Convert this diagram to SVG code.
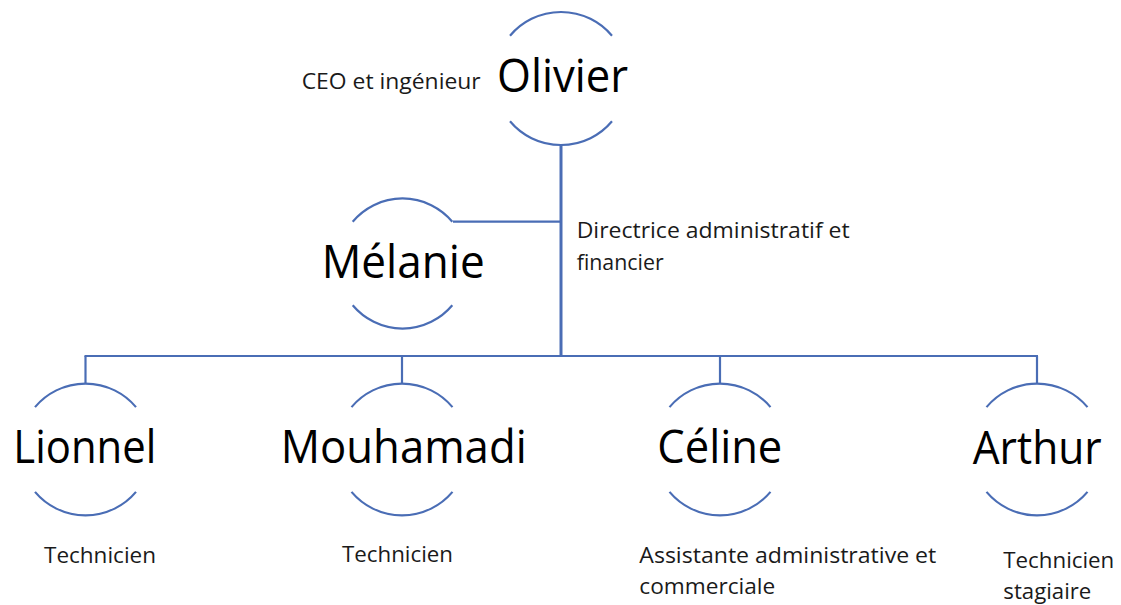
<svg xmlns="http://www.w3.org/2000/svg" width="1121" height="605" viewBox="0 0 1121 605">
  <style>
    .arc { fill: none; stroke: #4a6db5; stroke-width: 2.2; }
    .conn { fill: none; stroke: #4a6db5; stroke-width: 2.2; }
    .trunk { stroke-width: 3; }
    .name { font-family: "Open Sans", "Liberation Sans", sans-serif; font-size: 45px; fill: #000; }
    .role { font-family: "Open Sans", "Liberation Sans", sans-serif; font-size: 21.5px; fill: #1a1a1a; }
  </style>
  <rect width="1121" height="605" fill="#ffffff"/>

  <g id="connectors">
    <line class="conn trunk" x1="561" y1="145" x2="561" y2="357"/>
    <line class="conn" x1="453" y1="221.7" x2="561" y2="221.7"/>
    <line class="conn" x1="84.5" y1="356" x2="1038" y2="356"/>
    <line class="conn" x1="85.5" y1="356" x2="85.5" y2="383.5"/>
    <line class="conn" x1="402" y1="356" x2="402" y2="383.5"/>
    <line class="conn" x1="720" y1="356" x2="720" y2="383.5"/>
    <line class="conn" x1="1037" y1="356" x2="1037" y2="383.5"/>
  </g>

  <g id="olivier">
    <path class="arc" d="M 510 35.8 A 66.5 66.5 0 0 1 612 35.8"/>
    <path class="arc" d="M 510 121.2 A 66.5 66.5 0 0 0 612 121.2"/>
    <text class="name" x="497" y="91.7" textLength="131" lengthAdjust="spacingAndGlyphs">Olivier</text>
    <text class="role" x="301.7" y="89.3" textLength="179" lengthAdjust="spacingAndGlyphs">CEO et ingénieur</text>
  </g>

  <g id="melanie">
    <path class="arc" d="M 352.7 221.7 A 65 65 0 0 1 452.3 221.7"/>
    <path class="arc" d="M 352.7 305.3 A 65 65 0 0 0 452.3 305.3"/>
    <text class="name" x="321.7" y="278.3" textLength="163" lengthAdjust="spacingAndGlyphs">Mélanie</text>
    <text class="role" x="576.7" y="238.3" textLength="273" lengthAdjust="spacingAndGlyphs">Directrice administratif et</text>
    <text class="role" x="576.7" y="270" textLength="87" lengthAdjust="spacingAndGlyphs">financier</text>
  </g>

  <g id="lionnel">
    <path class="arc" d="M 35 407.1 A 66 66 0 0 1 136 407.1"/>
    <path class="arc" d="M 35 491.9 A 66 66 0 0 0 136 491.9"/>
    <text class="name" x="13.3" y="463" textLength="143" lengthAdjust="spacingAndGlyphs">Lionnel</text>
    <text class="role" x="44" y="563.3" textLength="112" lengthAdjust="spacingAndGlyphs">Technicien</text>
  </g>

  <g id="mouhamadi">
    <path class="arc" d="M 351.5 407.1 A 66 66 0 0 1 452.5 407.1"/>
    <path class="arc" d="M 351.5 491.9 A 66 66 0 0 0 452.5 491.9"/>
    <text class="name" x="280.7" y="463.3" textLength="246" lengthAdjust="spacingAndGlyphs">Mouhamadi</text>
    <text class="role" x="342" y="561.7" textLength="111" lengthAdjust="spacingAndGlyphs">Technicien</text>
  </g>

  <g id="celine">
    <path class="arc" d="M 669.5 407.1 A 66 66 0 0 1 770.5 407.1"/>
    <path class="arc" d="M 669.5 491.9 A 66 66 0 0 0 770.5 491.9"/>
    <text class="name" x="657.3" y="462.7" textLength="125" lengthAdjust="spacingAndGlyphs">Céline</text>
    <text class="role" x="639.3" y="563.3" textLength="297" lengthAdjust="spacingAndGlyphs">Assistante administrative et</text>
    <text class="role" x="639.3" y="594" textLength="136" lengthAdjust="spacingAndGlyphs">commerciale</text>
  </g>

  <g id="arthur">
    <path class="arc" d="M 986.5 407.1 A 66 66 0 0 1 1087.5 407.1"/>
    <path class="arc" d="M 986.5 491.9 A 66 66 0 0 0 1087.5 491.9"/>
    <text class="name" x="972.7" y="464" textLength="129" lengthAdjust="spacingAndGlyphs">Arthur</text>
    <text class="role" x="1003.3" y="568.3" textLength="111" lengthAdjust="spacingAndGlyphs">Technicien</text>
    <text class="role" x="1003.3" y="599" textLength="88" lengthAdjust="spacingAndGlyphs">stagiaire</text>
  </g>
</svg>
